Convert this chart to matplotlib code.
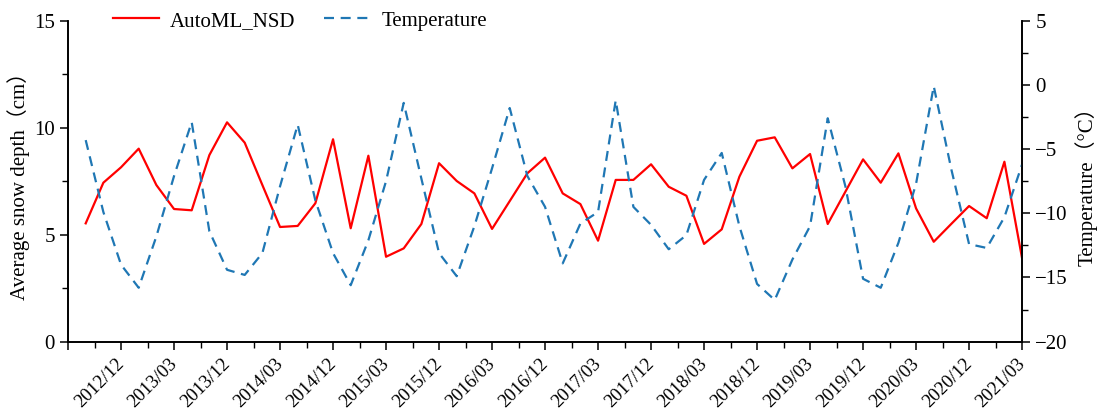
"""
Average snow depth (AutoML_NSD) vs. temperature, winter months Oct-Mar 2012-2021.
Saves out.png.
"""

import numpy as np
import matplotlib

matplotlib.use("Agg")
import matplotlib.pyplot as plt
from matplotlib.ticker import MultipleLocator

# ── Data (one value per winter month, Oct..Mar, seasons 2012/13 .. 2020/21) ──
snow_depth = [
    5.53, 7.43, 8.15, 9.02, 7.32, 6.20,
    6.14, 8.72, 10.25, 9.30, 7.32, 5.36,
    5.41, 6.47, 9.46, 5.30, 8.69, 3.97,
    4.36, 5.50, 8.34, 7.51, 6.93, 5.27,
    6.57, 7.87, 8.60, 6.93, 6.43, 4.72,
    7.56, 7.56, 8.29, 7.24, 6.82, 4.57,
    5.25, 7.71, 9.39, 9.55, 8.10, 8.77,
    5.50, 7.01, 8.52, 7.43, 8.80, 6.23,
    4.67, 5.51, 6.34, 5.77, 8.41, 3.90,
]
temperature = [
    -4.3, -9.9, -14.0, -15.8, -11.8, -7.1,
    -2.9, -11.4, -14.4, -14.8, -13.1, -7.9,
    -3.1, -9.0, -13.1, -15.6, -12.1, -7.5,
    -1.4, -7.3, -13.1, -14.9, -11.0, -6.5,
    -1.8, -7.1, -9.5, -13.9, -10.8, -9.9,
    -1.2, -9.5, -10.9, -12.8, -11.7, -7.4,
    -5.3, -11.0, -15.5, -16.75, -13.6, -11.0,
    -2.6, -7.9, -15.1, -15.8, -12.3, -7.7,
    -0.1, -6.6, -12.4, -12.7, -10.3, -6.2,
]
tick_labels = [
    "2012/12", "2013/03", "2013/12", "2014/03", "2014/12", "2015/03",
    "2015/12", "2016/03", "2016/12", "2017/03", "2017/12", "2018/03",
    "2018/12", "2019/03", "2019/12", "2020/03", "2020/12", "2021/03",
]


def main():
    plt.rcParams["font.family"] = ["Liberation Serif", "Noto Sans CJK SC"]
    plt.rcParams["axes.unicode_minus"] = True

    x = np.arange(1, len(snow_depth) + 1)          # month index on the axis
    tick_pos = np.arange(3, len(snow_depth) + 1, 3)  # every labelled month

    fig = plt.figure(figsize=(10.99, 4.19), dpi=100)
    ax = fig.add_axes([0.0619, 0.1845, 0.8681, 0.7661])
    ax2 = ax.twinx()

    # ── Lines ─────────────────────────────────────────────────────────────────
    l1, = ax.plot(x, snow_depth, color="#ff0000", lw=1.6, label="AutoML_NSD")
    l2, = ax2.plot(x, temperature, color="#1f77b4", lw=1.6,
                   dashes=(4.5, 3.0), label="Temperature")

    # ── Axes limits / ticks ───────────────────────────────────────────────────
    ax.set_xlim(0, len(snow_depth))
    ax.set_ylim(0, 15)
    ax2.set_ylim(-20, 5)

    ax.set_xticks(np.concatenate([[0], tick_pos]))
    ax.set_xticklabels([""] + tick_labels, rotation=45, ha="right",
                       va="center", rotation_mode="anchor", fontsize=13.5)
    ax.xaxis.set_minor_locator(MultipleLocator(1.5))
    ax.yaxis.set_major_locator(MultipleLocator(5))
    ax.yaxis.set_minor_locator(MultipleLocator(2.5))
    ax2.yaxis.set_major_locator(MultipleLocator(5))
    ax2.yaxis.set_minor_locator(MultipleLocator(2.5))

    for a in (ax, ax2):
        a.tick_params(which="major", direction="out", length=6, width=1.1,
                      labelsize=15, colors="black")
        a.tick_params(which="minor", direction="out", length=4, width=1.0)
        for s in a.spines.values():
            s.set_linewidth(1.2)
        a.spines["top"].set_visible(False)
    ax.tick_params(axis="x", which="major", labelsize=13.5, pad=8)

    ax.set_ylabel("Average snow depth（cm）", fontsize=15, labelpad=3)
    ax2.set_ylabel("Temperature（°C）", fontsize=15, labelpad=5)

    # ── Legend along the top edge ─────────────────────────────────────────────
    fig.legend(
        handles=[l1, l2],
        loc="center left",
        bbox_to_anchor=(0.1028, 0.950),
        ncol=2,
        frameon=False,
        fontsize=15,
        handlelength=2.2,
        handletextpad=0.55,
        columnspacing=1.35,
        borderpad=0,
        borderaxespad=0,
    )

    fig.savefig("out.png", dpi=100)
    plt.close(fig)


if __name__ == "__main__":
    main()
